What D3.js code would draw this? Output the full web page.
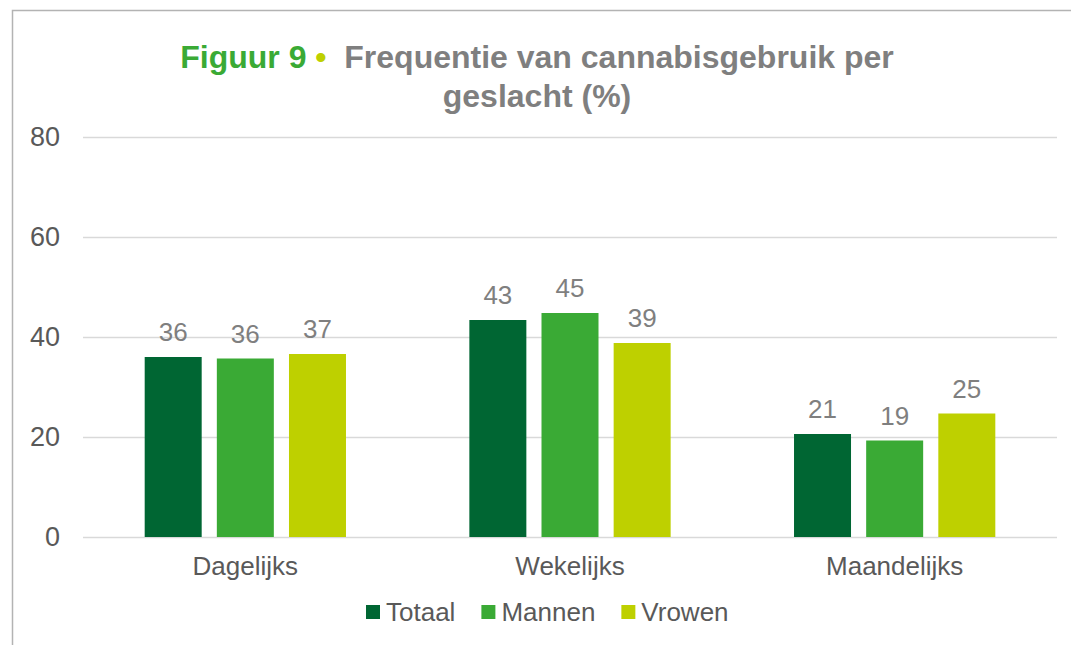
<!DOCTYPE html>
<html>
<head>
<meta charset="utf-8">
<script src="https://cdn.jsdelivr.net/npm/d3@7"></script>
<style>
body { margin: 0; background: #fff; }
svg text { font-family: "Liberation Sans", Arial, sans-serif; }
</style>
</head>
<body>
<div id="chart"></div>
<script>
var categories = ['Dagelijks', 'Wekelijks', 'Maandelijks'];
var series = ['Totaal', 'Mannen', 'Vrowen'];
var totaal = [36.0, 43.4, 20.6];
var mannen = [35.7, 44.8, 19.3];
var vrowen = [36.6, 38.8, 24.7];
var yTicks = [0, 20, 40, 60, 80];
var colors = ['#006633', '#3aaa35', '#bed000'];

var w = 1071;
var h = 645;

var values = [totaal, mannen, vrowen];
var data = categories.map(function (c, i) {
	return series.map(function (s, j) {
		return {cat: c, key: s, value: values[j][i]};
	});
});

var svg = d3.select('#chart')
	.append('svg')
	.attr('width', w)
	.attr('height', h);

// frame
svg.append('rect')
	.attr('x', 12.5)
	.attr('y', 10.5)
	.attr('width', 1200)
	.attr('height', 800)
	.attr('fill', 'none')
	.attr('stroke', '#b3b3b3')
	.attr('stroke-width', 1.5);

// title
var title = svg.append('text')
	.attr('text-anchor', 'middle')
	.attr('font-size', '32px')
	.attr('font-weight', 'bold');
title.append('tspan')
	.attr('x', 537).attr('y', 68)
	.attr('fill', '#3aaa35')
	.text('Figuur 9 ');
title.append('tspan')
	.attr('fill', '#bed000')
	.text('\u2022');
title.append('tspan')
	.attr('fill', '#7f7f7f')
	.text('\u00a0 Frequentie van cannabisgebruik per');
title.append('tspan')
	.attr('x', 537).attr('y', 107)
	.attr('fill', '#7f7f7f')
	.text('geslacht (%)');

var x0 = d3.scaleBand()
	.domain(categories)
	.range([83, 1057])
	.paddingInner(0.38)
	.paddingOuter(0.19);
var x1 = d3.scaleBand()
	.domain(series)
	.range([0, x0.bandwidth()])
	.paddingInner(0.21);
var y = d3.scaleLinear()
	.domain([0, 80])
	.range([537, 137]);
var color = d3.scaleOrdinal().domain(series).range(colors);

// grid
svg.selectAll('line.grid')
	.data(yTicks)
	.enter()
	.append('line')
	.attr('class', 'grid')
	.attr('x1', 83)
	.attr('x2', 1057)
	.attr('y1', function (d) {return y(d) + 0.5;})
	.attr('y2', function (d) {return y(d) + 0.5;})
	.attr('stroke', '#d9d9d9')
	.attr('stroke-width', 1.5);

var yAxis = svg.append('g')
	.attr('transform', 'translate(60,0)')
	.call(d3.axisLeft(y).tickValues(yTicks).tickSize(0).tickPadding(0));
yAxis.select('.domain').remove();
yAxis.selectAll('text')
	.attr('font-family', '"Liberation Sans", Arial, sans-serif')
	.attr('font-size', '27px')
	.attr('fill', '#595959');

var xAxis = svg.append('g')
	.attr('transform', 'translate(0,557)')
	.call(d3.axisBottom(x0).tickSize(0).tickPadding(0));
xAxis.select('.domain').remove();
xAxis.selectAll('text')
	.attr('font-family', '"Liberation Sans", Arial, sans-serif')
	.attr('font-size', '26px')
	.attr('fill', '#595959');

var groups = svg.selectAll('g.group')
	.data(data)
	.enter()
	.append('g')
	.attr('class', 'group')
	.attr('transform', function (d) {return 'translate(' + x0(d[0].cat) + ',0)';});

groups.selectAll('rect')
	.data(function (d) {return d;})
	.enter()
	.append('rect')
	.attr('x', function (d) {return x1(d.key);})
	.attr('y', function (d) {return y(d.value);})
	.attr('width', x1.bandwidth())
	.attr('height', function (d) {return y(0) - y(d.value);})
	.attr('fill', function (d) {return color(d.key);});

groups.selectAll('text')
	.data(function (d) {return d;})
	.enter()
	.append('text')
	.text(function (d) {return Math.round(d.value);})
	.attr('x', function (d) {return x1(d.key) + x1.bandwidth() / 2;})
	.attr('y', function (d) {return y(d.value) - 16;})
	.attr('text-anchor', 'middle')
	.attr('font-size', '26px')
	.attr('fill', '#7f7f7f');

// legend
var legend = svg.append('g');
var lx = 366;
series.forEach(function (s) {
	legend.append('rect')
		.attr('x', lx)
		.attr('y', 605)
		.attr('width', 14)
		.attr('height', 14)
		.attr('fill', color(s));
	var t = legend.append('text')
		.attr('x', lx + 20)
		.attr('y', 621)
		.attr('font-size', '26px')
		.attr('fill', '#595959')
		.text(s);
	lx += 20 + t.node().getComputedTextLength() + 26;
});
</script>
</body>
</html>
